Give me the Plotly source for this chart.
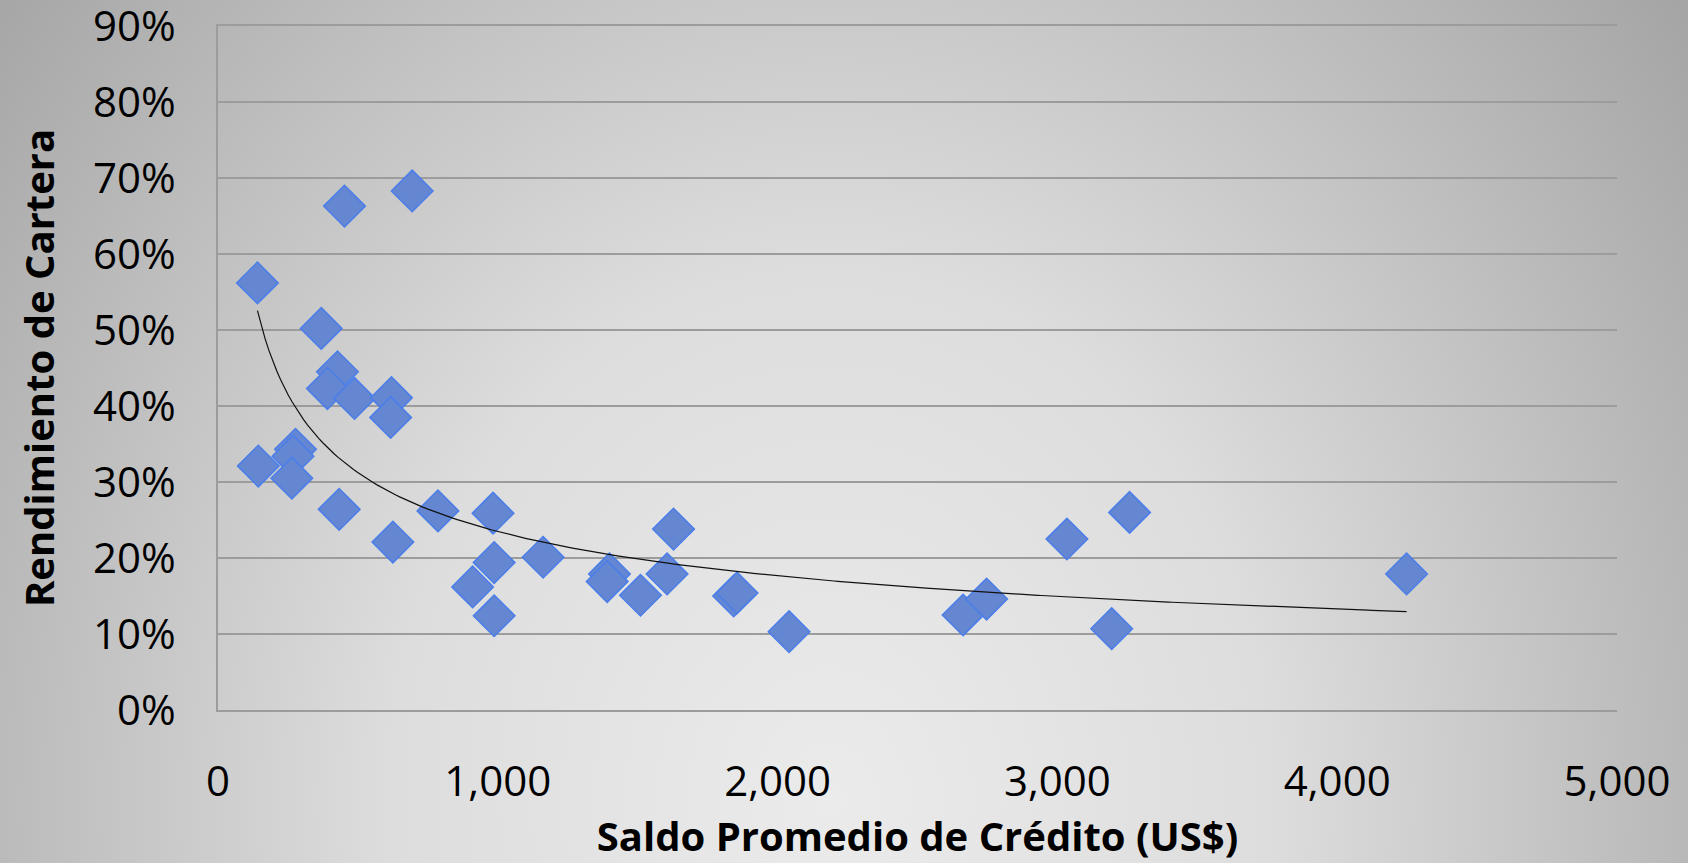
import base64
import numpy as np
import plotly.graph_objects as go

# ---- data ----
saldo_promedio = [141, 452, 694, 369, 427, 391, 488, 620, 617,
                  144, 277, 268, 264, 433, 625, 786, 983, 987, 910, 987,
                  1162, 1399, 1391, 1510, 1605, 1628, 1843, 1855, 2041,
                  2663, 2747, 3034, 3258, 3194, 4248]
rendimiento = [0.562, 0.663, 0.683, 0.502, 0.445, 0.423, 0.410, 0.411, 0.385,
               0.321, 0.343, 0.334, 0.305, 0.264, 0.221, 0.262, 0.259, 0.194, 0.162, 0.124,
               0.201, 0.179, 0.169, 0.151, 0.179, 0.238, 0.150, 0.154, 0.103,
               0.125, 0.146, 0.225, 0.260, 0.107, 0.179]

x_ticks = [0, 1000, 2000, 3000, 4000, 5000]
y_ticks = [0, 0.1, 0.2, 0.3, 0.4, 0.5, 0.6, 0.7, 0.8, 0.9]

x_title = "Saldo Promedio de Crédito (US$)"
y_title = "Rendimiento de Cartera"

# ---- power trendline (least squares on log-log, like a spreadsheet power fit) ----
xa = np.array(saldo_promedio, dtype=float)
ya = np.array(rendimiento, dtype=float)
b, ln_a = np.polyfit(np.log(xa), np.log(ya), 1)
xt = np.linspace(xa.min(), xa.max(), 300)
yt = np.exp(ln_a) * xt ** b

# ---- background gradient (SVG) ----
W, H = 1688, 863
cx, cy = 830, 800
svg = (
    f"<svg xmlns='http://www.w3.org/2000/svg' width='{W}' height='{H}' viewBox='0 0 {W} {H}' preserveAspectRatio='none'>"
    f"<defs><radialGradient id='g' gradientUnits='userSpaceOnUse' cx='{cx}' cy='{cy}' r='1100' "
    f"gradientTransform='translate({cx} {cy}) scale(1 1.2) translate({-cx} {-cy})'>"
    "<stop offset='0' stop-color='#EBEBEB'/><stop offset='0.4' stop-color='#DDDDDD'/>"
    "<stop offset='1' stop-color='#A3A3A3'/></radialGradient></defs>"
    f"<rect x='0' y='0' width='{W}' height='{H}' fill='url(#g)'/></svg>"
)
bg_uri = "data:image/svg+xml;base64," + base64.b64encode(svg.encode()).decode()

L, R, T, B = 218, 71, 26, 153
pw, ph = W - L - R, H - T - B

FONT = "Open Sans"
GRID = "#9C9C9C"

fig = go.Figure()
fig.add_trace(go.Scatter(
    x=saldo_promedio, y=rendimiento, mode="markers",
    marker=dict(symbol="diamond", size=32, color="#6587D2",
                line=dict(color="#4A7EEA", width=1.5)),
    showlegend=False, hoverinfo="x+y",
))
fig.add_trace(go.Scatter(
    x=xt, y=yt, mode="lines", line=dict(color="#111111", width=1.2),
    showlegend=False, hoverinfo="skip",
))

fig.update_layout(
    width=W, height=H,
    margin=dict(l=L, r=R, t=T, b=B, pad=0, autoexpand=False),
    paper_bgcolor="#CCCCCC", plot_bgcolor="rgba(0,0,0,0)",
    font=dict(family=FONT, color="#000000"),
    images=[dict(source=bg_uri, xref="paper", yref="paper",
                 x=-L / pw, y=1 + T / ph, sizex=W / pw, sizey=H / ph,
                 xanchor="left", yanchor="top", sizing="stretch", layer="below")],
    xaxis=dict(range=[0, 5000], tickvals=x_ticks, tickformat=",", automargin=False,
               showgrid=False, zeroline=False,
               showline=True, mirror=True, linecolor=GRID, linewidth=1.5,
               tickfont=dict(size=42, family=FONT), ticks="", ticklabelstandoff=34,
               ticklabeloverflow="allow",
               title=dict(text=x_title, font=dict(size=40, family=FONT, weight="bold"), standoff=32)),
    yaxis=dict(range=[0, 0.9], tickvals=y_ticks, tickformat=".0%", automargin=False,
               showgrid=True, gridcolor=GRID, gridwidth=1.5,
               zeroline=False, showline=True, linecolor=GRID, linewidth=1.5,
               tickfont=dict(size=42, family=FONT), ticks="", ticklabelstandoff=32,
               ticklabeloverflow="allow",
               title=dict(text=y_title, font=dict(size=40, family=FONT, weight="bold"), standoff=26)),
)

fig.write_html("out.html", config={"displayModeBar": False},
               post_script="document.body.style.margin='0';document.body.style.overflow='hidden';")
